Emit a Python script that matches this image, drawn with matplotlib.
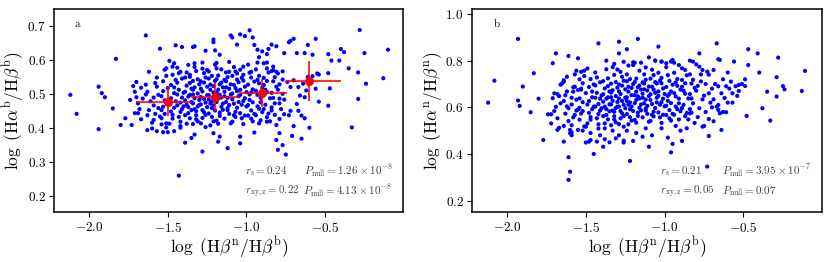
import numpy as np
import matplotlib
matplotlib.use("Agg")
import matplotlib.pyplot as plt

plt.rcParams['font.family'] = 'serif'
plt.rcParams['font.serif'] = ['cmr10']
plt.rcParams['mathtext.fontset'] = 'cm'
plt.rcParams['axes.formatter.use_mathtext'] = True

# panel a: log(Ha_b/Hb_b) vs log(Hb_n/Hb_b)
a_outer = [(-2.12,0.497),(-2.08,0.441),(-1.94,0.521),(-1.94,0.396),(-1.92,0.502),(-1.90,0.490),(-1.83,0.603),(-1.85,0.457),
           (-1.80,0.408),(-1.77,0.428),(-1.74,0.482),(-1.72,0.523),(-1.73,0.408),(-1.71,0.443),(-1.71,0.506),(-1.70,0.490),
           (-1.69,0.443),(-1.64,0.672),(-1.55,0.633),(-1.45,0.643),(-1.46,0.590),(-1.41,0.638),(-1.34,0.638),(-1.33,0.640),
           (-1.33,0.590),(-1.28,0.592),(-1.26,0.627),(-1.21,0.660),(-1.21,0.652),(-1.20,0.628),(-1.17,0.615),(-1.10,0.672),
           (-1.09,0.666),(-1.06,0.645),(-1.04,0.675),(-1.01,0.670),(-0.98,0.687),(-0.96,0.666),(-0.95,0.644),(-0.93,0.630),
           (-0.92,0.608),(-0.90,0.625),(-0.87,0.617),(-0.86,0.632),(-0.84,0.645),(-0.81,0.640),(-0.76,0.620),(-0.73,0.652),
           (-0.72,0.656),(-0.70,0.662),(-0.68,0.620),(-0.63,0.620),(-0.61,0.644),(-0.56,0.662),(-0.58,0.615),(-0.48,0.617),
           (-0.46,0.598),(-0.40,0.632),(-0.38,0.623),(-0.41,0.598),(-0.28,0.688),(-0.25,0.620),(-0.10,0.630),(-0.29,0.563),
           (-0.24,0.530),(-0.13,0.546),(-0.29,0.485),(-0.33,0.401),(-0.35,0.575),(-0.48,0.561),(-0.47,0.516),(-0.48,0.465),
           (-0.54,0.477),(-0.54,0.557),(-0.60,0.400),(-0.63,0.428),(-0.65,0.368),(-0.70,0.405),(-0.71,0.376),(-0.75,0.321),
           (-0.77,0.349),(-0.80,0.335),(-0.81,0.364),(-0.79,0.384),(-0.82,0.438),(-0.84,0.460),(-0.87,0.418),(-0.92,0.413),
           (-0.95,0.386),(-1.04,0.354),(-1.04,0.374),(-1.12,0.340),(-1.18,0.359),(-1.17,0.374),(-1.21,0.384),(-1.28,0.330),
           (-1.33,0.380),(-1.35,0.370),(-1.39,0.356),(-1.43,0.259),(-1.46,0.390),(-1.50,0.387),(-1.53,0.387),(-1.57,0.390),
           (-1.60,0.398),(-1.63,0.393),(-1.54,0.410),(-1.51,0.413),(-1.42,0.400),
           (-1.47,0.58),(-1.51,0.575),(-1.42,0.565),(-1.38,0.563),(-1.36,0.55),(-1.25,0.57),(-1.19,0.575),(-1.11,0.594),
           (-1.11,0.565),(-1.06,0.56),(-1.02,0.58),(-0.97,0.565),(-0.93,0.592),(-0.89,0.59),(-0.87,0.592),(-0.83,0.58),
           (-0.83,0.57),(-0.81,0.565),(-0.80,0.56),(-0.87,0.575),(-0.74,0.535),(-0.72,0.52),(-0.70,0.54),(-0.67,0.52),
           (-0.66,0.495),(-0.63,0.49),(-0.61,0.55),(-0.58,0.552),(-0.56,0.515),(-0.55,0.56),(-0.68,0.47),(-0.67,0.45),
           (-0.65,0.436),(-0.72,0.45),(-0.73,0.437),(-0.76,0.44),(-0.79,0.472),(-0.79,0.486),(-0.77,0.50),(-0.64,0.53),
           (-0.62,0.51)]

a_core = [(-1.69,0.472),(-1.67,0.518),(-1.68,0.455),(-1.66,0.486),(-1.70,0.535),(-1.67,0.425),
          (-1.64,0.498),(-1.63,0.437),(-1.62,0.565),(-1.61,0.478),(-1.64,0.527),(-1.62,0.452),(-1.60,0.415),(-1.63,0.506),
          (-1.59,0.466),(-1.58,0.441),(-1.57,0.521),(-1.56,0.497),(-1.59,0.423),(-1.57,0.548),(-1.56,0.458),(-1.58,0.532),
          (-1.55,0.433),(-1.59,0.489),
          (-1.54,0.452),(-1.53,0.508),(-1.52,0.481),(-1.51,0.553),(-1.54,0.428),(-1.52,0.571),(-1.53,0.462),(-1.51,0.401),
          (-1.50,0.517),(-1.54,0.493),(-1.52,0.441),(-1.53,0.537),
          (-1.49,0.469),(-1.48,0.526),(-1.47,0.438),(-1.46,0.502),(-1.49,0.412),(-1.47,0.556),(-1.46,0.459),(-1.48,0.487),
          (-1.45,0.541),(-1.49,0.597),(-1.47,0.427),(-1.46,0.519),(-1.45,0.478),(-1.48,0.448),
          (-1.44,0.466),(-1.43,0.512),(-1.42,0.447),(-1.41,0.489),(-1.44,0.533),(-1.42,0.418),(-1.43,0.561),(-1.41,0.455),
          (-1.40,0.503),(-1.44,0.577),(-1.42,0.474),(-1.43,0.432),(-1.41,0.545),(-1.40,0.463),(-1.44,0.498),(-1.42,0.405),
          (-1.39,0.481),(-1.38,0.524),(-1.37,0.443),(-1.36,0.497),(-1.39,0.548),(-1.37,0.461),(-1.38,0.412),(-1.36,0.532),
          (-1.35,0.476),(-1.39,0.506),(-1.37,0.585),(-1.36,0.428),(-1.38,0.468),(-1.35,0.515),(-1.39,0.437),(-1.37,0.492),
          (-1.36,0.556),(-1.35,0.452),
          (-1.34,0.472),(-1.33,0.519),(-1.32,0.449),(-1.31,0.501),(-1.34,0.538),(-1.32,0.425),(-1.33,0.487),(-1.31,0.463),
          (-1.30,0.528),(-1.34,0.411),(-1.32,0.567),(-1.33,0.455),(-1.31,0.543),(-1.30,0.482),(-1.34,0.498),(-1.32,0.437),
          (-1.33,0.579),(-1.31,0.419),(-1.30,0.467),(-1.34,0.512),
          (-1.29,0.491),(-1.28,0.452),(-1.27,0.533),(-1.26,0.474),(-1.29,0.413),(-1.27,0.561),(-1.28,0.507),(-1.26,0.438),
          (-1.25,0.521),(-1.29,0.469),(-1.27,0.485),(-1.26,0.548),(-1.28,0.429),(-1.25,0.496),(-1.29,0.537),(-1.27,0.446),
          (-1.26,0.402),(-1.28,0.574),(-1.25,0.461),(-1.29,0.515),
          (-1.24,0.483),(-1.23,0.527),(-1.22,0.458),(-1.21,0.504),(-1.24,0.442),(-1.22,0.553),(-1.23,0.471),(-1.21,0.419),
          (-1.20,0.538),(-1.24,0.496),(-1.22,0.432),(-1.23,0.512),(-1.21,0.466),(-1.20,0.586),(-1.24,0.545),(-1.22,0.478),
          (-1.23,0.407),(-1.21,0.523),(-1.20,0.451),(-1.24,0.566),
          (-1.19,0.476),(-1.18,0.512),(-1.17,0.445),(-1.16,0.533),(-1.19,0.421),(-1.17,0.497),(-1.18,0.554),(-1.16,0.462),
          (-1.15,0.519),(-1.19,0.543),(-1.17,0.435),(-1.18,0.486),(-1.16,0.572),(-1.15,0.453),(-1.19,0.503),(-1.17,0.528),
          (-1.18,0.412),(-1.16,0.489),(-1.15,0.471),(-1.19,0.591),
          (-1.14,0.493),(-1.13,0.537),(-1.12,0.458),(-1.11,0.515),(-1.14,0.427),(-1.12,0.549),(-1.13,0.476),(-1.11,0.441),
          (-1.10,0.528),(-1.14,0.506),(-1.12,0.488),(-1.13,0.563),(-1.11,0.467),(-1.10,0.413),(-1.14,0.541),(-1.12,0.452),
          (-1.13,0.519),(-1.10,0.498),
          (-1.09,0.484),(-1.08,0.526),(-1.07,0.447),(-1.06,0.508),(-1.09,0.553),(-1.07,0.432),(-1.08,0.471),(-1.06,0.542),
          (-1.05,0.493),(-1.09,0.418),(-1.07,0.517),(-1.08,0.579),(-1.06,0.459),(-1.05,0.534),(-1.09,0.501),(-1.07,0.566),
          (-1.08,0.437),(-1.05,0.476),
          (-1.04,0.512),(-1.03,0.468),(-1.02,0.539),(-1.01,0.487),(-1.04,0.443),(-1.02,0.556),(-1.03,0.428),(-1.01,0.521),
          (-1.00,0.463),(-1.04,0.497),(-1.02,0.411),(-1.03,0.547),(-1.01,0.436),(-1.00,0.505),(-1.04,0.571),(-1.02,0.479),
          (-0.99,0.527),(-0.98,0.482),(-0.97,0.451),(-0.96,0.513),(-0.99,0.436),(-0.97,0.548),(-0.98,0.498),(-0.96,0.419),
          (-0.95,0.536),(-0.99,0.467),(-0.97,0.504),(-0.98,0.562),(-0.96,0.475),(-0.95,0.441),(-0.99,0.586),(-0.97,0.427),
          (-0.94,0.509),(-0.93,0.463),(-0.92,0.531),(-0.91,0.488),(-0.94,0.437),(-0.92,0.553),(-0.93,0.497),(-0.91,0.422),
          (-0.90,0.518),(-0.94,0.572),(-0.92,0.456),(-0.93,0.541),(-0.91,0.475),(-0.90,0.446),
          (-0.89,0.526),(-0.88,0.468),(-0.87,0.505),(-0.86,0.442),(-0.89,0.547),(-0.87,0.431),(-0.88,0.512),(-0.86,0.563),
          (-0.85,0.487),(-0.89,0.455),(-0.87,0.538),(-0.85,0.419),
          (-0.84,0.503),(-0.83,0.537),(-0.82,0.472),(-0.81,0.521),(-0.84,0.451),(-0.82,0.549),(-0.83,0.488),(-0.81,0.408),
          (-0.80,0.512),(-0.84,0.567),
          (-0.79,0.528),(-0.78,0.455),(-0.77,0.542),(-0.76,0.483),(-0.79,0.426),(-0.77,0.566)]

# binned means (red)
bin_x = [-1.5, -1.2, -0.9, -0.6]
bin_y = [0.477, 0.491, 0.503, 0.538]
bin_xlo = [0.20, 0.15, 0.145, 0.15]
bin_xhi = [0.15, 0.15, 0.155, 0.20]
bin_yerr = [0.042, 0.042, 0.042, 0.058]

# panel b: log(Ha_n/Hb_n) vs log(Hb_n/Hb_b)
b_outer = [(-2.12,0.620),(-2.08,0.714),(-1.93,0.893),(-1.93,0.629),(-1.92,0.606),(-1.90,0.689),(-1.85,0.579),(-1.83,0.746),
           (-1.80,0.637),(-1.77,0.460),(-1.74,0.570),(-1.72,0.531),(-1.72,0.570),(-1.71,0.639),(-1.71,0.789),(-1.70,0.660),
           (-1.69,0.831),(-1.68,0.503),(-1.68,0.657),(-1.66,0.617),(-1.65,0.703),(-1.64,0.520),(-1.64,0.453),(-1.64,0.710),
           (-1.62,0.731),(-1.61,0.820),(-1.61,0.596),(-1.61,0.386),(-1.60,0.324),(-1.61,0.289),(-1.60,0.503),(-1.59,0.493),
           (-1.59,0.480),(-1.58,0.686),(-1.57,0.567),(-1.56,0.757),(-1.55,0.810),(-1.55,0.674),(-1.54,0.720),(-1.53,0.680),
           (-1.50,0.449),(-1.50,0.517),(-1.51,0.757),(-1.48,0.453),(-1.47,0.460),(-1.45,0.400),(-1.43,0.453),(-1.42,0.874),
           (-1.39,0.431),(-1.38,0.463),(-1.35,0.450),(-1.31,0.467),(-1.29,0.881),(-1.29,0.831),(-1.26,0.449),(-1.26,0.457),
           (-1.24,0.849),(-1.22,0.370),(-1.20,0.456),(-1.17,0.893),(-1.14,0.474),(-1.10,0.431),(-1.10,0.814),(-1.06,0.800),
           (-1.04,0.860),(-1.02,0.796),(-0.96,0.407),(-0.95,0.443),(-0.89,0.456),(-0.84,0.574),(-0.83,0.577),(-0.78,0.831),
           (-0.76,0.517),(-0.75,0.520),(-0.72,0.477),(-0.73,0.346),(-0.67,0.874),(-0.66,0.806),(-0.65,0.803),(-0.69,0.634),
           (-0.67,0.603),(-0.66,0.589),(-0.65,0.574),(-0.64,0.503),(-0.61,0.579),(-0.60,0.749),(-0.56,0.796),(-0.57,0.620),
           (-0.54,0.649),(-0.53,0.696),(-0.49,0.691),(-0.48,0.563),(-0.47,0.849),(-0.47,0.781),(-0.41,0.831),(-0.40,0.749),
           (-0.38,0.596),(-0.35,0.667),(-0.33,0.543),(-0.29,0.646),(-0.29,0.729),(-0.28,0.813),(-0.25,0.691),(-0.24,0.677),
           (-0.13,0.670),(-0.11,0.756),
           (-1.37,0.800),(-1.32,0.786),(-1.30,0.762),(-1.26,0.795),(-1.23,0.779),(-1.20,0.793),(-1.15,0.791),(-1.12,0.771),
           (-1.06,0.800),(-1.02,0.796),(-0.99,0.789),(-0.96,0.796),(-0.95,0.803),(-0.94,0.791),(-0.91,0.781),(-0.89,0.767),
           (-0.87,0.760),(-0.84,0.800),(-0.82,0.796),(-0.80,0.784),(-0.78,0.774),(-0.76,0.760),(-0.73,0.753),
           (-0.74,0.70),(-0.72,0.66),(-0.70,0.68),(-0.71,0.62),(-0.68,0.70),(-0.66,0.69),(-0.64,0.66),(-0.63,0.72),
           (-0.62,0.64),(-0.61,0.69),(-0.59,0.68),(-0.58,0.71),(-0.57,0.66),(-0.55,0.69),(-0.53,0.67),(-0.51,0.70),
           (-0.49,0.72),(-0.74,0.58),(-0.72,0.55),(-0.70,0.60),(-0.69,0.54),(-0.66,0.61),(-0.63,0.58),(-0.60,0.62),
           (-0.75,0.65),(-0.72,0.74),(-0.69,0.76),
           (-1.55,0.59),(-1.52,0.50),(-1.47,0.49),(-1.41,0.48),(-1.38,0.51),(-1.33,0.50),(-1.29,0.48),(-1.24,0.50),
           (-1.18,0.49),(-1.12,0.51),(-1.08,0.48),(-1.02,0.51),(-0.98,0.47),(-0.93,0.52),(-0.90,0.50),(-0.86,0.51)]

b_core = [(-1.69,0.602),(-1.67,0.648),(-1.68,0.553),(-1.66,0.697),(-1.70,0.584),(-1.67,0.512),
          (-1.64,0.627),(-1.63,0.573),(-1.62,0.668),(-1.61,0.541),(-1.64,0.716),(-1.62,0.604),(-1.60,0.489),(-1.63,0.652),
          (-1.59,0.612),(-1.58,0.557),(-1.57,0.688),(-1.56,0.633),(-1.59,0.523),(-1.57,0.741),(-1.56,0.586),(-1.58,0.667),
          (-1.55,0.503),(-1.59,0.641),
          (-1.54,0.598),(-1.53,0.676),(-1.52,0.622),(-1.51,0.734),(-1.54,0.547),(-1.52,0.703),(-1.53,0.573),(-1.51,0.518),
          (-1.50,0.661),(-1.54,0.638),(-1.52,0.584),(-1.53,0.752),
          (-1.49,0.612),(-1.48,0.687),(-1.47,0.558),(-1.46,0.643),(-1.49,0.531),(-1.47,0.721),(-1.46,0.592),(-1.48,0.627),
          (-1.45,0.698),(-1.49,0.766),(-1.47,0.547),(-1.46,0.668),(-1.45,0.603),(-1.48,0.576),
          (-1.44,0.603),(-1.43,0.662),(-1.42,0.571),(-1.41,0.637),(-1.44,0.694),(-1.42,0.527),(-1.43,0.728),(-1.41,0.586),
          (-1.40,0.651),(-1.44,0.749),(-1.42,0.614),(-1.43,0.553),(-1.41,0.707),(-1.40,0.596),(-1.44,0.641),(-1.42,0.509),
          (-1.39,0.624),(-1.38,0.681),(-1.37,0.567),(-1.36,0.643),(-1.39,0.712),(-1.37,0.592),(-1.38,0.531),(-1.36,0.691),
          (-1.35,0.613),(-1.39,0.656),(-1.37,0.763),(-1.36,0.548),(-1.38,0.603),(-1.35,0.668),(-1.39,0.562),(-1.37,0.637),
          (-1.36,0.724),(-1.35,0.583),
          (-1.34,0.612),(-1.33,0.673),(-1.32,0.581),(-1.31,0.648),(-1.34,0.701),(-1.32,0.548),(-1.33,0.628),(-1.31,0.597),
          (-1.30,0.684),(-1.34,0.523),(-1.32,0.739),(-1.33,0.586),(-1.31,0.708),(-1.30,0.623),(-1.34,0.643),(-1.32,0.562),
          (-1.33,0.772),(-1.31,0.536),(-1.30,0.603),(-1.34,0.663),
          (-1.29,0.638),(-1.28,0.584),(-1.27,0.693),(-1.26,0.611),(-1.29,0.528),(-1.27,0.731),(-1.28,0.657),(-1.26,0.562),
          (-1.25,0.677),(-1.29,0.603),(-1.27,0.627),(-1.26,0.714),(-1.28,0.553),(-1.25,0.641),(-1.29,0.698),(-1.27,0.574),
          (-1.26,0.517),(-1.28,0.752),(-1.25,0.596),(-1.29,0.668),
          (-1.24,0.627),(-1.23,0.688),(-1.22,0.592),(-1.21,0.652),(-1.24,0.571),(-1.22,0.721),(-1.23,0.611),(-1.21,0.543),
          (-1.20,0.699),(-1.24,0.643),(-1.22,0.558),(-1.23,0.667),(-1.21,0.603),(-1.20,0.781),(-1.24,0.712),(-1.22,0.621),
          (-1.23,0.527),(-1.21,0.683),(-1.20,0.584),(-1.24,0.741),
          (-1.19,0.618),(-1.18,0.667),(-1.17,0.577),(-1.16,0.693),(-1.19,0.546),(-1.17,0.647),(-1.18,0.723),(-1.16,0.598),
          (-1.15,0.676),(-1.19,0.708),(-1.17,0.563),(-1.18,0.632),(-1.16,0.757),(-1.15,0.587),(-1.19,0.652),(-1.17,0.686),
          (-1.18,0.534),(-1.16,0.638),(-1.15,0.612),(-1.19,0.791),
          (-1.14,0.641),(-1.13,0.702),(-1.12,0.594),(-1.11,0.672),(-1.14,0.557),(-1.12,0.718),(-1.13,0.617),(-1.11,0.572),
          (-1.10,0.689),(-1.14,0.658),(-1.12,0.633),(-1.13,0.741),(-1.11,0.606),(-1.10,0.538),(-1.14,0.707),(-1.12,0.586),
          (-1.13,0.677),(-1.10,0.648),
          (-1.09,0.631),(-1.08,0.688),(-1.07,0.581),(-1.06,0.662),(-1.09,0.723),(-1.07,0.561),(-1.08,0.614),(-1.06,0.708),
          (-1.05,0.641),(-1.09,0.542),(-1.07,0.676),(-1.08,0.761),(-1.06,0.597),(-1.05,0.702),(-1.09,0.656),(-1.07,0.738),
          (-1.08,0.568),(-1.05,0.621),
          (-1.04,0.668),(-1.03,0.611),(-1.02,0.703),(-1.01,0.637),(-1.04,0.578),(-1.02,0.726),(-1.03,0.557),(-1.01,0.681),
          (-1.00,0.604),(-1.04,0.649),(-1.02,0.533),(-1.03,0.714),(-1.01,0.568),(-1.00,0.657),(-1.04,0.748),(-1.02,0.622),
          (-0.99,0.687),(-0.98,0.628),(-0.97,0.588),(-0.96,0.668),(-0.99,0.567),(-0.97,0.713),(-0.98,0.649),(-0.96,0.543),
          (-0.95,0.697),(-0.99,0.607),(-0.97,0.657),(-0.98,0.738),(-0.96,0.618),(-0.95,0.572),(-0.99,0.772),(-0.97,0.553),
          (-0.94,0.661),(-0.93,0.603),(-0.92,0.692),(-0.91,0.637),(-0.94,0.568),(-0.92,0.721),(-0.93,0.647),(-0.91,0.548),
          (-0.90,0.676),(-0.94,0.748),(-0.92,0.592),(-0.93,0.706),(-0.91,0.617),(-0.90,0.583),
          (-0.89,0.688),(-0.88,0.611),(-0.87,0.658),(-0.86,0.576),(-0.89,0.717),(-0.87,0.562),(-0.88,0.671),(-0.86,0.737),
          (-0.85,0.638),(-0.89,0.597),(-0.87,0.703),(-0.85,0.548),
          (-0.84,0.657),(-0.83,0.702),(-0.82,0.617),(-0.81,0.683),(-0.84,0.592),(-0.82,0.718),(-0.83,0.638),(-0.81,0.533),
          (-0.80,0.671),(-0.84,0.741),
          (-0.79,0.692),(-0.78,0.596),(-0.77,0.711),(-0.76,0.634),(-0.79,0.558),(-0.77,0.741)]

xa, ya = np.array(a_outer + a_core).T
xb, yb = np.array(b_outer + b_core).T

xticks = [-2.0, -1.5, -1.0, -0.5]
xlabel = r'$\log\ (\mathrm{H}\beta^{\rm n}/\mathrm{H}\beta^{\rm b})$'

fig = plt.figure(figsize=(8.3, 2.62), dpi=100)
ax1 = fig.add_axes([0.0654, 0.1897, 0.4201, 0.7748])
ax2 = fig.add_axes([0.5687, 0.1897, 0.4211, 0.7748])

for ax in (ax1, ax2):
    for sp in ax.spines.values():
        sp.set_linewidth(1.1)
    ax.tick_params(direction='out', length=3.5, width=0.8, labelsize=9.5, pad=2.5)
    ax.set_xlim(-2.222, -0.005)
    ax.set_xticks(xticks)
    ax.set_xlabel(xlabel, fontsize=12.5, labelpad=0)

# panel a
ax1.scatter(xa, ya, s=9, color='b', edgecolors='none', zorder=2)
ax1.errorbar(bin_x, bin_y, xerr=[bin_xlo, bin_xhi], yerr=bin_yerr, fmt='o', color='r',
             ms=5.5, elinewidth=1.5, ecolor=(1, 0, 0, 0.8), zorder=3)
ax1.set_ylim(0.151, 0.749)
ax1.set_yticks([0.2, 0.3, 0.4, 0.5, 0.6, 0.7])
ax1.set_ylabel(r'$\log\ (\mathrm{H}\alpha^{\rm b}/\mathrm{H}\beta^{\rm b})$', fontsize=12.5, labelpad=1)
ax1.text(0.059, 0.928, 'a', transform=ax1.transAxes, fontsize=8, va='center')
ax1.text(0.546, 0.203, r'$r_{\rm s}=0.24$', transform=ax1.transAxes, fontsize=8, va='center', color='0.25')
ax1.text(0.716, 0.203, r'$P_{\rm null}=1.26\times10^{-8}$', transform=ax1.transAxes, fontsize=8, va='center', color='0.25')
ax1.text(0.546, 0.105, r'$r_{\rm xy,z}=0.22$', transform=ax1.transAxes, fontsize=8, va='center', color='0.25')
ax1.text(0.714, 0.105, r'$P_{\rm null}=4.13\times10^{-8}$', transform=ax1.transAxes, fontsize=8, va='center', color='0.25')

# panel b
ax2.scatter(xb, yb, s=9, color='b', edgecolors='none', zorder=2)
ax2.set_ylim(0.15, 1.02)
ax2.set_yticks([0.2, 0.4, 0.6, 0.8, 1.0])
ax2.set_ylabel(r'$\log\ (\mathrm{H}\alpha^{\rm n}/\mathrm{H}\beta^{\rm n})$', fontsize=12.5, labelpad=1)
ax2.text(0.061, 0.928, 'b', transform=ax2.transAxes, fontsize=8, va='center')
ax2.text(0.537, 0.203, r'$r_{\rm s}=0.21$', transform=ax2.transAxes, fontsize=8, va='center', color='0.25')
ax2.text(0.716, 0.203, r'$P_{\rm null}=3.95\times10^{-7}$', transform=ax2.transAxes, fontsize=8, va='center', color='0.25')
ax2.text(0.537, 0.105, r'$r_{\rm xy,z}=0.05$', transform=ax2.transAxes, fontsize=8, va='center', color='0.25')
ax2.text(0.716, 0.105, r'$P_{\rm null}=0.07$', transform=ax2.transAxes, fontsize=8, va='center', color='0.25')

fig.savefig('out.png', dpi=100)
